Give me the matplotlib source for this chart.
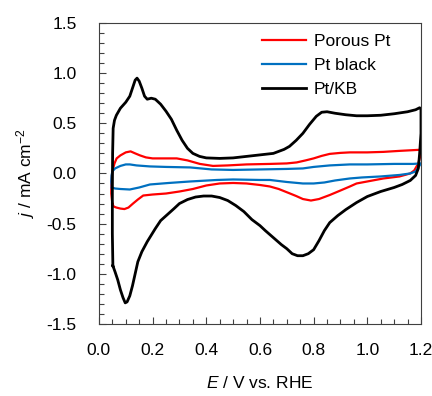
import matplotlib
matplotlib.use("Agg")
import matplotlib.pyplot as plt
from matplotlib.ticker import MultipleLocator, FormatStrFormatter

plt.rcParams['font.family'] = ['Liberation Sans', 'DejaVu Sans']
plt.rcParams['mathtext.fontset'] = 'custom'
plt.rcParams['mathtext.rm'] = 'Liberation Sans'
plt.rcParams['mathtext.it'] = 'Liberation Sans:italic'
plt.rcParams['axes.unicode_minus'] = False

# Pt/KB (closed CV loop: anodic then cathodic sweep)
kb_E = [0.052, 0.050, 0.050, 0.051, 0.053, 0.058, 0.065, 0.08, 0.10, 0.115, 0.125, 0.135, 0.142,
        0.150, 0.160, 0.170, 0.180, 0.195, 0.210, 0.230, 0.250, 0.270, 0.290, 0.310, 0.330, 0.350,
        0.375, 0.40, 0.45, 0.50, 0.55, 0.60, 0.65, 0.69, 0.71, 0.735, 0.76, 0.785, 0.81, 0.83, 0.85,
        0.88, 0.92, 0.96, 1.00, 1.05, 1.10, 1.15, 1.18, 1.195, 1.20,
        1.20, 1.195, 1.19, 1.18, 1.16, 1.13, 1.10, 1.05, 1.00, 0.96, 0.92, 0.89, 0.86, 0.84, 0.82,
        0.80, 0.78, 0.76, 0.74, 0.72, 0.70, 0.68, 0.65, 0.62, 0.60, 0.57, 0.54, 0.51, 0.48, 0.45,
        0.42, 0.39, 0.36, 0.33, 0.30, 0.28, 0.255, 0.23, 0.21, 0.18, 0.16, 0.145, 0.135, 0.125,
        0.115, 0.105, 0.098, 0.09, 0.08, 0.07, 0.06, 0.052]
kb_j = [-0.92, -0.60, -0.20, 0.20, 0.45, 0.53, 0.58, 0.65, 0.71, 0.77, 0.85, 0.93, 0.95,
        0.92, 0.85, 0.77, 0.74, 0.75, 0.74, 0.69, 0.62, 0.54, 0.43, 0.33, 0.25, 0.20,
        0.17, 0.155, 0.15, 0.155, 0.17, 0.185, 0.20, 0.24, 0.27, 0.33, 0.40, 0.49, 0.57, 0.61, 0.615,
        0.60, 0.585, 0.575, 0.575, 0.58, 0.595, 0.615, 0.635, 0.655, 0.64,
        0.40, 0.20, 0.05, -0.02, -0.07, -0.11, -0.14, -0.18, -0.23, -0.29, -0.36, -0.42, -0.49, -0.57, -0.67,
        -0.76, -0.80, -0.82, -0.82, -0.80, -0.75, -0.71, -0.64, -0.57, -0.52, -0.46, -0.38, -0.32, -0.27, -0.24,
        -0.225, -0.225, -0.235, -0.26, -0.30, -0.35, -0.41, -0.47, -0.55, -0.68, -0.78, -0.88, -1.00, -1.12,
        -1.22, -1.28, -1.29, -1.24, -1.16, -1.06, -0.98, -0.92]

# Porous Pt
pp_E = [0.050, 0.046, 0.046, 0.050, 0.058, 0.066, 0.08, 0.10, 0.118, 0.135, 0.153, 0.175, 0.20,
        0.25, 0.29, 0.33, 0.376, 0.425, 0.48, 0.55, 0.637, 0.70, 0.737, 0.77, 0.80, 0.83, 0.86,
        0.90, 0.935, 1.00, 1.06, 1.12, 1.19, 1.20,
        1.198, 1.19, 1.175, 1.16, 1.12, 1.06, 1.00, 0.96, 0.935, 0.90, 0.86, 0.82, 0.79, 0.76,
        0.735, 0.712, 0.67, 0.637, 0.60, 0.55, 0.50, 0.45, 0.40, 0.35, 0.30, 0.25, 0.20, 0.165,
        0.145, 0.127, 0.11, 0.095, 0.08, 0.065, 0.055, 0.050]
pp_j = [-0.30, -0.20, -0.08, 0.02, 0.10, 0.15, 0.18, 0.21, 0.22, 0.20, 0.18, 0.16, 0.15,
        0.15, 0.15, 0.13, 0.095, 0.075, 0.08, 0.09, 0.095, 0.10, 0.11, 0.13, 0.15, 0.175, 0.195,
        0.205, 0.21, 0.21, 0.215, 0.225, 0.235, 0.235,
        0.18, 0.10, 0.03, 0.00, -0.03, -0.05, -0.08, -0.10, -0.13, -0.17, -0.215, -0.255, -0.27, -0.255,
        -0.225, -0.20, -0.155, -0.13, -0.115, -0.10, -0.095, -0.10, -0.12, -0.155, -0.18, -0.20, -0.21, -0.22,
        -0.26, -0.30, -0.34, -0.355, -0.35, -0.34, -0.33, -0.30]

# Pt black
pb_E = [0.048, 0.046, 0.047, 0.050, 0.06, 0.08, 0.10, 0.115, 0.14, 0.19, 0.25, 0.34, 0.42,
        0.50, 0.60, 0.70, 0.76, 0.80, 0.86, 0.935, 1.00, 1.10, 1.17, 1.20,
        1.19, 1.18, 1.16, 1.12, 1.05, 0.98, 0.935, 0.88, 0.84, 0.80, 0.76, 0.70, 0.637, 0.60,
        0.50, 0.44, 0.34, 0.26, 0.19, 0.15, 0.115, 0.08, 0.06, 0.048]
pb_j = [-0.14, -0.08, -0.02, 0.02, 0.05, 0.075, 0.09, 0.09, 0.08, 0.07, 0.065, 0.06, 0.04,
        0.035, 0.04, 0.045, 0.05, 0.065, 0.08, 0.09, 0.09, 0.095, 0.095, 0.10,
        0.06, 0.02, 0.00, -0.015, -0.03, -0.04, -0.05, -0.07, -0.09, -0.10, -0.10, -0.085, -0.065, -0.065,
        -0.06, -0.065, -0.08, -0.095, -0.11, -0.14, -0.16, -0.155, -0.15, -0.14]

fig = plt.figure(figsize=(4.32, 3.96), dpi=100)
ax = fig.add_axes([0.229, 0.182, 0.7455, 0.760])

ax.plot(pp_E, pp_j, color='#FF0000', lw=1.6, label='Porous Pt', solid_joinstyle='round')
ax.plot(pb_E, pb_j, color='#0070C0', lw=1.6, label='Pt black', solid_joinstyle='round')
ax.plot(kb_E, kb_j, color='black', lw=2.0, label='Pt/KB', solid_joinstyle='round')

ax.set_xlim(0, 1.2)
ax.set_ylim(-1.5, 1.5)
ax.xaxis.set_major_locator(MultipleLocator(0.2))
ax.xaxis.set_minor_locator(MultipleLocator(0.05))
ax.yaxis.set_major_locator(MultipleLocator(0.5))
ax.yaxis.set_minor_locator(MultipleLocator(0.1))
ax.xaxis.set_major_formatter(FormatStrFormatter('%.1f'))
ax.yaxis.set_major_formatter(FormatStrFormatter('%.1f'))
ax.tick_params(which='both', direction='in', color='#404040', width=0.8, labelsize=12.5,
               top=False, right=False)
ax.tick_params(axis='x', which='major', pad=14)
ax.tick_params(axis='y', which='major', pad=16)
ax.tick_params(which='major', length=5)
ax.tick_params(which='minor', length=3.5)
for s in ax.spines.values():
    s.set_color('#404040')
    s.set_linewidth(0.8)

ax.set_xlabel(r'$\it{E}$ / V vs. RHE', fontsize=12.5, labelpad=12)
ax.set_ylabel(r'$\it{j}$ / mA cm$^{-2}$', fontsize=12.5, labelpad=7)

ax.legend(loc='upper right', bbox_to_anchor=(0.952, 1.015), frameon=False, fontsize=12.5,
          handlelength=2.5, handletextpad=0.45, labelspacing=0.5)

fig.savefig('out.png', dpi=100)
